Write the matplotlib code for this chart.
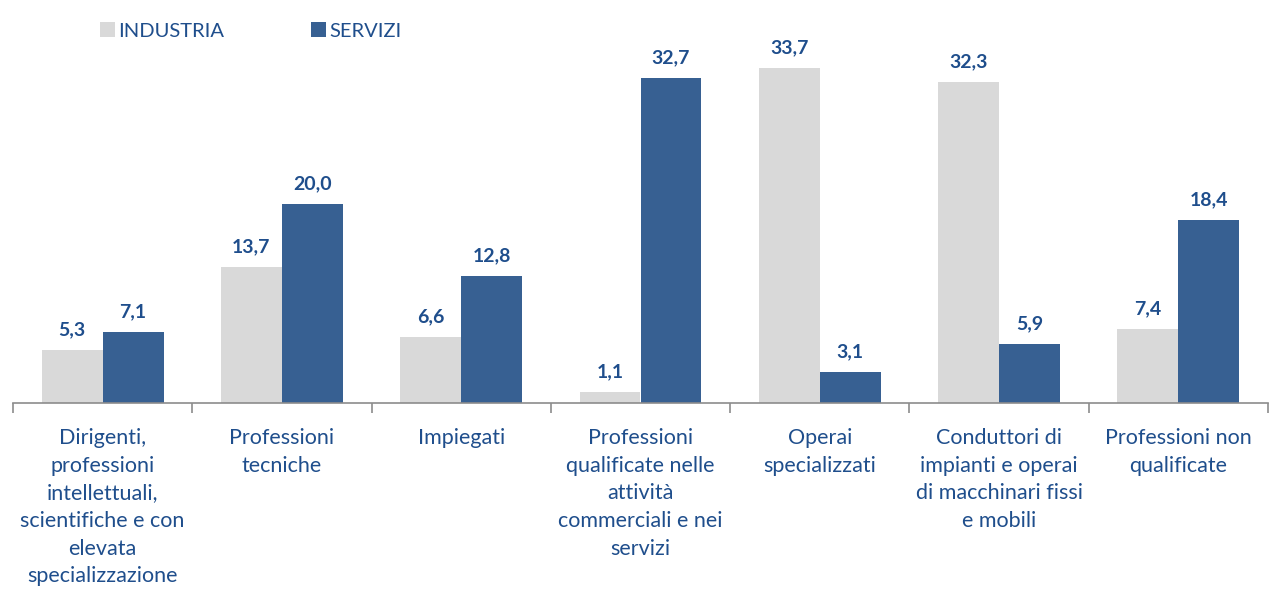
import matplotlib
matplotlib.use("Agg")
import matplotlib.pyplot as plt
import numpy as np

categories = [
    "Dirigenti,\nprofessioni\nintellettuali,\nscientifiche e con\nelevata\nspecializzazione",
    "Professioni\ntecniche",
    "Impiegati",
    "Professioni\nqualificate nelle\nattività\ncommerciali e nei\nservizi",
    "Operai\nspecializzati",
    "Conduttori di\nimpianti e operai\ndi macchinari fissi\ne mobili",
    "Professioni non\nqualificate",
]
industria = [5.3, 13.7, 6.6, 1.1, 33.7, 32.3, 7.4]
servizi = [7.1, 20.0, 12.8, 32.7, 3.1, 5.9, 18.4]

TEXT = "#1F4E8C"
GREY = "#D9D9D9"
BLUE = "#376092"

plt.rcParams["font.family"] = ["Lato", "DejaVu Sans"]

fig = plt.figure(figsize=(12.74, 5.92), dpi=100)
ax = fig.add_axes([13 / 1274, 1 - 403 / 592, 1255 / 1274, 358 / 592])

x = np.arange(len(categories))
w = 0.34
b1 = ax.bar(x - w / 2, industria, width=w, color=GREY, label="INDUSTRIA")
b2 = ax.bar(x + w / 2, servizi, width=w, color=BLUE, label="SERVIZI")

for bars in (b1, b2):
    for rect in bars:
        h = rect.get_height()
        ax.annotate(f"{h:.1f}".replace(".", ","),
                    (rect.get_x() + rect.get_width() / 2, h),
                    xytext=(0, 8.5), textcoords="offset points",
                    ha="center", va="bottom", fontsize=14, fontweight="bold", color=TEXT)

ax.set_xlim(-0.5, len(categories) - 0.5)
ax.set_ylim(0, 36)
ax.set_yticks([])
for s in ("top", "right", "left"):
    ax.spines[s].set_visible(False)
ax.spines["bottom"].set_color("#8C8C8C")
ax.spines["bottom"].set_linewidth(1.2)

ax.set_xticks(x)
ax.set_xticklabels(categories, fontsize=15.5, color=TEXT, linespacing=1.48)
ax.tick_params(axis="x", which="major", length=0, pad=18)
ax.set_xticks(np.arange(len(categories) + 1) - 0.5, minor=True)
ax.tick_params(axis="x", which="minor", length=7, width=1.2, color="#8C8C8C")

leg = ax.legend(loc="upper left", bbox_to_anchor=(69 / 1255, 1 + 41 / 358), ncol=2,
                frameon=False, fontsize=14.5, handlelength=0.75, handleheight=0.75,
                handletextpad=0.15, columnspacing=4.3)
for t in leg.get_texts():
    t.set_color(TEXT)

fig.savefig("out.png", dpi=100)
